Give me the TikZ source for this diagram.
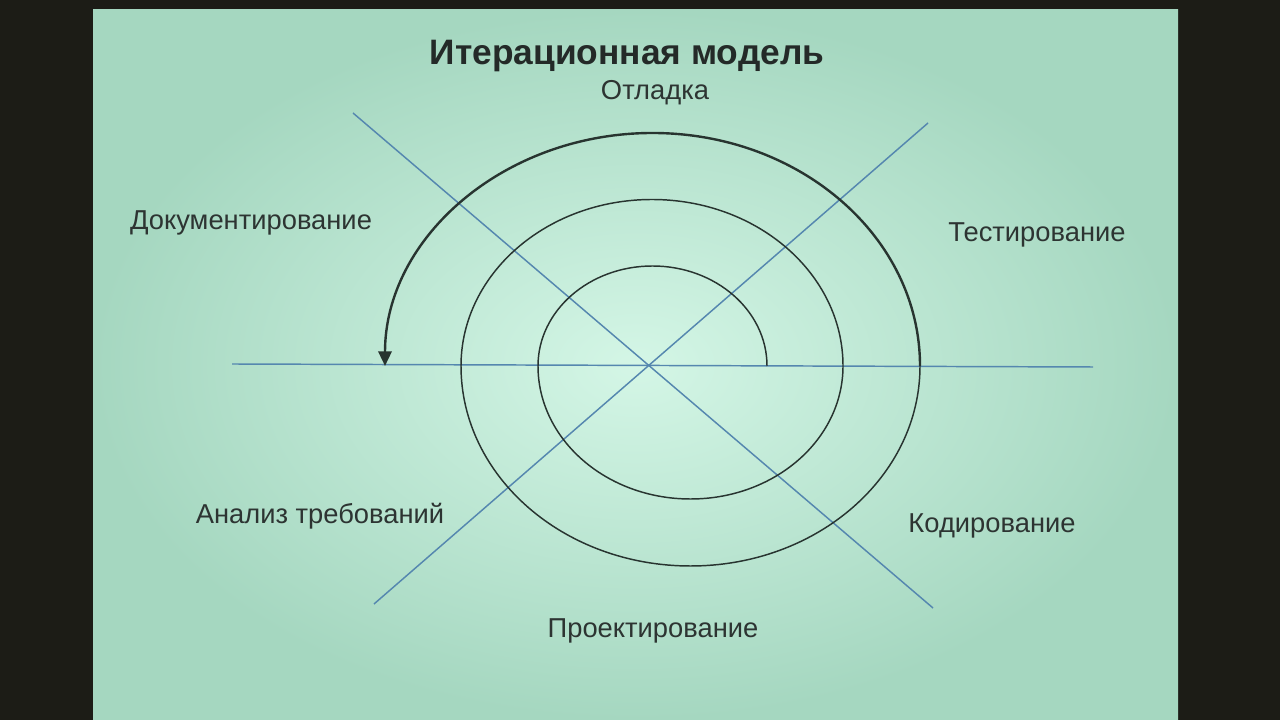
\documentclass[tikz,border=0pt]{standalone}
\usepackage{fontspec}
\setmainfont{Liberation Sans}
\usetikzlibrary{arrows.meta}
\definecolor{bgdark}{RGB}{28,28,22}
\definecolor{slidein}{RGB}{212,246,230}
\definecolor{slideout}{RGB}{165,215,192}
\definecolor{axisblue}{RGB}{85,135,175}
\definecolor{spiral}{RGB}{40,52,48}
\definecolor{txt}{RGB}{45,52,50}
\tikzset{
  axis/.style={draw=axisblue, line width=1.1pt},
  spir/.style={draw=spiral, line width=1.1pt},
  lbl/.style={text=txt, font=\fontsize{20.5}{24}\selectfont, inner sep=0pt},
  ttl/.style={text=txt!80!black, font=\bfseries\fontsize{26.5}{30}\selectfont, inner sep=0pt}
}
\begin{document}
\begin{tikzpicture}[x=0.75pt,y=0.75pt]
\useasboundingbox (0,0) rectangle (1280,720);
\fill[bgdark] (0,0) rectangle (1280,720);
\shade[inner color=slidein, outer color=slideout] (93,0) rectangle (1178,710);
% axes
\coordinate (h1) at (232,356);
\coordinate (h2) at (1093,353);
\coordinate (d1a) at (353,607);
\coordinate (d1b) at (933,112);
\coordinate (d2a) at (928,597);
\coordinate (d2b) at (374,116);
\draw[axis] (h1) -- (h2);
\draw[axis] (d1a) -- (d1b);
\draw[axis] (d2a) -- (d2b);
% spiral
\coordinate (s0) at (767,354);
\draw[spir] (s0) arc[start angle=0, end angle=180, x radius=114.5, y radius=100]
  arc[start angle=180, end angle=360, x radius=152.5, y radius=133]
  arc[start angle=0, end angle=180, x radius=191, y radius=166.5]
  arc[start angle=180, end angle=360, x radius=229.5, y radius=200];
\coordinate (s4) at (920,354);
\draw[spir, line width=1.8pt, -{Triangle[length=11pt,width=10pt]}] (s4)
  arc[start angle=0, end angle=180, x radius=267.5, y radius=233];
% labels
\node[ttl] (title) at (627,664) {Итерационная модель};
\node[lbl] (otl) at (655,627) {Отладка};
\node[lbl] (doc) at (251,497) {Документирование};
\node[lbl] (test) at (1037,485) {Тестирование};
\node[lbl] (anal) at (320,204) {Анализ требований};
\node[lbl] (kod) at (992,194) {Кодирование};
\node[lbl] (proj) at (653,89) {Проектирование};
\end{tikzpicture}
\end{document}
